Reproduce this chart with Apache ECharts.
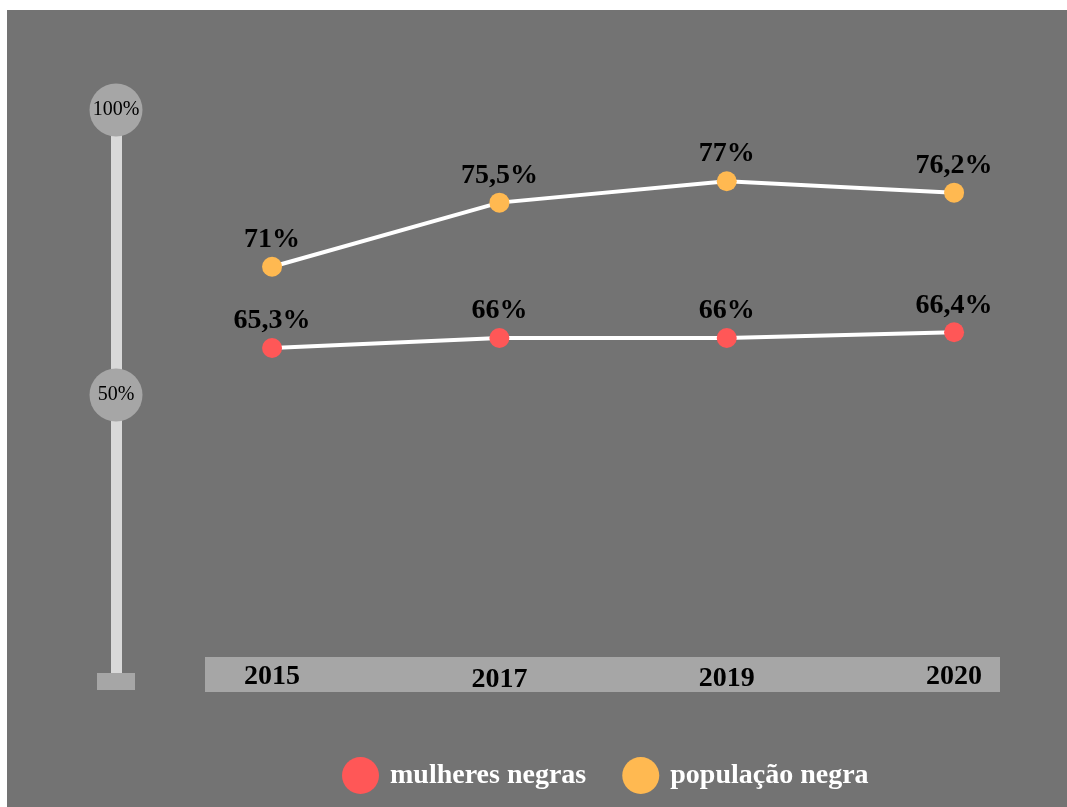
<!DOCTYPE html>
<html>
<head>
<meta charset="utf-8">
<script src="https://cdn.jsdelivr.net/npm/echarts@6/dist/echarts.min.js"></script>
<style>
  html, body { margin: 0; padding: 0; background: #ffffff; }
  #main { position: absolute; left: 7px; top: 10px; width: 1060px; height: 797px; background: #737373; }
</style>
</head>
<body>
<div id="main"></div>
<script>
var anos = ['2015', '2017', '2019', '2020'];
var mulheresNegras = [65.3, 66, 66, 66.4];
var populacaoNegra = [71, 75.5, 77, 76.2];
var escala = [0, 50, 100];

var dom = document.getElementById('main');
var myChart = echarts.init(dom);
var fonte = '"Liberation Serif", "Times New Roman", serif';

function pares(valores) {
    return valores.map(function (v, i) { return [i, v]; });
}

function rotulo(p) {
    return String(p.value[1]).replace('.', ',') + '%';
}

var labelStyle = {
    show: true,
    position: 'top',
    distance: 3,
    color: '#000',
    fontFamily: fonte,
    fontWeight: 'bold',
    fontSize: 28,
    formatter: rotulo
};

var anoStyle = {fontFamily: fonte, fontWeight: 'bold', fontSize: 28, color: '#000'};

var option = {
    backgroundColor: '#737373',
    animation: false,
    grid: {left: 198, right: 67, top: 100, bottom: 127},
    legend: {
        top: 742,
        left: 330,
        itemWidth: 37,
        itemHeight: 37,
        itemGap: 36,
        icon: 'circle',
        textStyle: {
            color: '#fff',
            fontFamily: fonte,
            fontWeight: 'bold',
            fontSize: 28,
            padding: [0, 0, 0, 6]
        },
        data: ['mulheres negras', 'população negra']
    },
    xAxis: {
        type: 'value',
        min: -0.295,
        max: 3.202,
        offset: -5.5,
        splitLine: {show: false},
        axisTick: {show: false},
        axisLine: {show: true, lineStyle: {color: '#a6a6a6', width: 35, cap: 'butt'}},
        axisLabel: {
            customValues: [0, 1, 2, 3],
            margin: 0,
            verticalAlign: 'middle',
            color: '#000',
            fontFamily: fonte,
            fontWeight: 'bold',
            fontSize: 28,
            formatter: function (v) {
                var i = Math.round(v);
                if (i === 1) return '{b|' + anos[i] + '}';
                if (i === 2) return '{c|' + anos[i] + '}';
                return '{a|' + anos[i] + '}';
            },
            rich: {
                a: Object.assign({padding: [5, 0, 0, 0]}, anoStyle),
                b: Object.assign({padding: [10, 0, 0, 0]}, anoStyle),
                c: Object.assign({padding: [8, 0, 0, 0]}, anoStyle)
            }
        }
    },
    yAxis: [
        {
            type: 'value',
            min: 42,
            max: 82,
            show: false
        },
        {
            type: 'value',
            position: 'left',
            offset: 89,
            min: escala[0],
            max: escala[2],
            interval: escala[1],
            splitLine: {show: false},
            axisTick: {show: false},
            axisLine: {show: true, lineStyle: {color: '#d9d9d9', width: 11, cap: 'butt'}},
            axisLabel: {
                showMinLabel: false,
                margin: 0,
                align: 'center',
                verticalAlign: 'middle',
                width: 53,
                height: 53,
                lineHeight: 53,
                borderRadius: 27,
                backgroundColor: '#a6a6a6',
                color: '#000',
                fontFamily: fonte,
                fontSize: 20,
                formatter: '{value}%'
            }
        }
    ],
    series: [
        {
            name: 'mulheres negras',
            type: 'line',
            yAxisIndex: 0,
            symbol: 'circle',
            symbolSize: 20,
            itemStyle: {color: '#ff5757'},
            lineStyle: {color: '#fff', width: 4},
            label: labelStyle,
            data: pares(mulheresNegras),
            z: 3
        },
        {
            name: 'população negra',
            type: 'line',
            yAxisIndex: 0,
            symbol: 'circle',
            symbolSize: 20,
            itemStyle: {color: '#ffb951'},
            lineStyle: {color: '#fff', width: 4},
            label: labelStyle,
            data: pares(populacaoNegra),
            z: 3
        }
    ]
};

if (option && typeof option === "object") {
    myChart.setOption(option, true);
}

// base quadrada da escala decorativa
var base = myChart.convertToPixel({yAxisIndex: 1}, 0);
var eixoX = myChart.getModel().getComponent('grid').coordinateSystem.getRect().x - 89;
myChart.setOption({
    graphic: [{
        type: 'rect',
        shape: {x: eixoX - 19, y: base - 7, width: 38, height: 17},
        style: {fill: '#a6a6a6'},
        z: 10
    }]
});
</script>
</body>
</html>
